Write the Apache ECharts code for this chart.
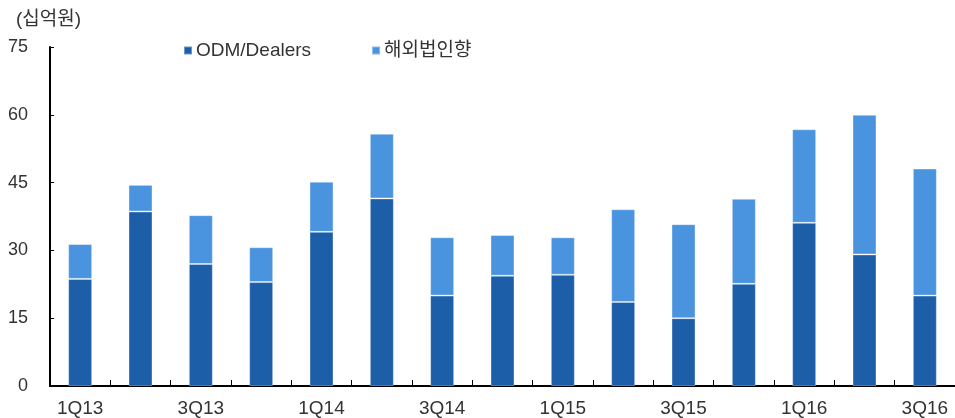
<!DOCTYPE html>
<html>
<head>
<meta charset="utf-8">
<script src="https://cdn.jsdelivr.net/npm/echarts@6/dist/echarts.min.js"></script>
<style>
  html, body { margin: 0; padding: 0; background: #fff; }
  #chart { width: 955px; height: 418px; }
</style>
</head>
<body>
<div id="chart"></div>
<script>
const categories = ['1Q13', '2Q13', '3Q13', '4Q13', '1Q14', '2Q14', '3Q14', '4Q14',
                    '1Q15', '2Q15', '3Q15', '4Q15', '1Q16', '2Q16', '3Q16'];
const odmDealers = [23.7, 38.6, 27.0, 23.0, 34.1, 41.5, 20.0, 24.4, 24.6, 18.6, 15.0, 22.6, 36.1, 29.1, 20.0];
const overseas = [7.7, 5.9, 10.8, 7.7, 11.1, 14.3, 12.9, 9.0, 8.3, 20.5, 20.8, 18.8, 20.7, 30.9, 28.1];
const yTicks = { min: 0, max: 75, interval: 15 };

const font = "'Liberation Sans', 'Noto Sans CJK KR', sans-serif";
const textColor = '#333';

const chart = echarts.init(document.getElementById('chart'));
chart.setOption({
    animation: false,
    textStyle: { fontFamily: font },
    title: {
        text: '(십억원)',
        left: 11,
        top: 5,
        textStyle: { fontSize: 19, fontWeight: 'normal', color: textColor, fontFamily: font }
    },
    legend: {
        left: 178,
        top: 36,
        icon: 'rect',
        itemWidth: 8,
        itemHeight: 8,
        itemGap: 60,
        textStyle: { fontSize: 19, color: textColor, fontFamily: font, padding: [0, 0, 0, -1] },
        data: ['ODM/Dealers', '해외법인향']
    },
    grid: { left: 50, right: 0, top: 47, bottom: 32, containLabel: false },
    xAxis: {
        type: 'category',
        data: categories,
        boundaryGap: true,
        axisLine: { lineStyle: { color: '#000', width: 2 } },
        axisTick: { show: true, inside: true, length: 6, interval: 0, lineStyle: { color: '#000', width: 1 } },
        axisLabel: { interval: 1, fontSize: 19, color: textColor, margin: 13, fontFamily: font }
    },
    yAxis: {
        type: 'value',
        min: yTicks.min,
        max: yTicks.max,
        interval: yTicks.interval,
        axisLine: { show: true, lineStyle: { color: '#000', width: 2 } },
        axisTick: { show: true, inside: true, length: 4, lineStyle: { color: '#000', width: 1 } },
        axisLabel: { fontSize: 18, color: textColor, margin: 22, fontFamily: font },
        splitLine: { show: false }
    },
    series: [
        {
            name: 'ODM/Dealers',
            type: 'bar',
            stack: 'total',
            barWidth: 24,
            itemStyle: { color: '#1c5ea8', borderColor: 'rgba(255,255,255,0.35)', borderWidth: 1 },
            data: odmDealers
        },
        {
            name: '해외법인향',
            type: 'bar',
            stack: 'total',
            barWidth: 24,
            itemStyle: { color: '#4a94df', borderColor: 'rgba(255,255,255,0.35)', borderWidth: 1 },
            data: overseas
        }
    ]
});
</script>
</body>
</html>
